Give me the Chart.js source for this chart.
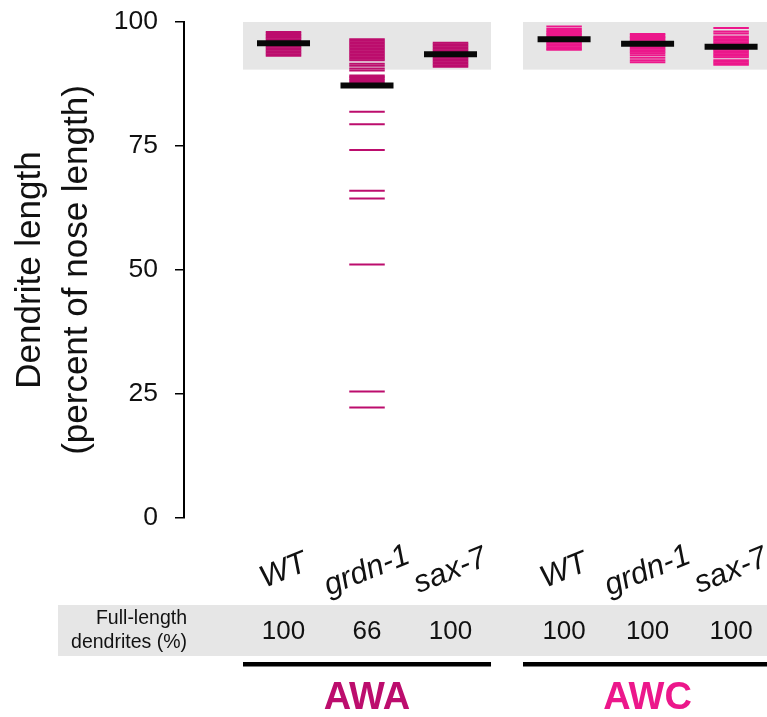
<!DOCTYPE html>
<html>
<head>
<meta charset="utf-8">
<script src="https://cdn.jsdelivr.net/npm/chart.js@4.4.1/dist/chart.umd.min.js"></script>
<style>
  html, body { margin: 0; padding: 0; background: #fff; }
  #wrap { width: 767px; height: 717px; }
</style>
</head>
<body>
<div id="wrap"><canvas id="chart" width="767" height="717"></canvas></div>
<script>
// --- values ---
const strains = ['WT', 'grdn-1', 'sax-7', 'WT', 'grdn-1', 'sax-7']
const neurons = ['AWA', 'AWC']
const fullLengthPct = [100, 66, 100, 100, 100, 100]
const yTicks = [0, 25, 50, 75, 100]
const fullLengthCutoff = 90.4

// one dash per animal (percent of nose length)
const awaWT = [93.2, 93.5, 93.8, 94.1, 94.4, 94.7, 95.0, 95.3, 95.6, 95.9, 96.2, 96.5, 96.8, 97.1, 97.4, 97.7, 98.0]
const awaGrdn1 = [96.5, 96.2, 95.9, 95.6, 95.3, 95.0, 94.7, 94.4, 94.1, 93.8, 93.5, 93.2, 92.9, 92.6, 92.3,
  91.6, 91.2, 90.6, 90.2, 89.2, 88.9, 88.6, 88.3, 87.9, 81.9, 79.4, 74.2, 66.0, 64.4, 51.1, 25.5, 22.3]
const awaSax7 = [91.0, 91.3, 91.6, 91.9, 92.2, 92.5, 92.8, 93.1, 93.4, 93.7, 94.0, 94.3, 94.6, 94.9, 95.2, 95.5, 95.8]
const awcWT = [99.1, 98.6, 98.2, 97.9, 97.6, 97.3, 97.0, 96.7, 96.4, 96.1, 95.8, 95.5, 95.2, 94.9, 94.6, 94.4]
const awcGrdn1 = [97.6, 97.3, 97.0, 96.7, 96.4, 96.1, 95.8, 95.5, 95.2, 94.9, 94.6, 94.3, 94.0, 93.7, 93.3, 92.8, 92.3, 91.9]
const awcSax7 = [98.8, 98.1, 97.7, 97.1, 96.8, 96.5, 96.2, 95.9, 95.6, 95.3, 95.0, 94.7, 94.4, 94.1, 93.8,
  93.5, 93.2, 92.9, 92.3, 92.0, 91.7, 91.4]
const centerLines = [95.7, 87.2, 93.5, 96.5, 95.6, 95.0]

// --- layout / style ---
const FONT = "'Liberation Sans', Arial, Helvetica, sans-serif"
const INK = '#111'
const BAND = '#e6e6e6'
const neuronColors = ['#bc0d6d', '#ec178b']
const xPos = [1, 2, 3, 4.36, 5.36, 6.36]
const groupSpan = [[0.515, 3.485], [3.868, 6.9]]

const series = [awaWT, awaGrdn1, awaSax7, awcWT, awcGrdn1, awcSax7]

const dashSets = series.map((vals, i) => ({
  label: neurons[i < 3 ? 0 : 1] + ' ' + strains[i],
  data: vals.map((v) => ({ x: xPos[i], y: v })),
  pointStyle: 'line',
  pointRadius: 17.75,
  pointBorderWidth: 2,
  borderColor: neuronColors[i < 3 ? 0 : 1],
  showLine: false,
  order: 1,
}))

const centerSet = {
  label: 'center',
  data: centerLines.map((v, i) => ({ x: xPos[i], y: v })),
  pointStyle: 'line',
  pointRadius: 26.5,
  pointBorderWidth: 6,
  borderColor: '#080808',
  showLine: false,
  order: 0,
}

const decorations = {
  id: 'decorations',
  beforeDatasetsDraw(chart) {
    const { ctx, scales: { x, y } } = chart
    const top = y.getPixelForValue(100)
    const bot = y.getPixelForValue(fullLengthCutoff)
    ctx.save()
    ctx.fillStyle = BAND
    groupSpan.forEach(([a, b]) => {
      const xa = x.getPixelForValue(a)
      ctx.fillRect(xa, top, x.getPixelForValue(b) - xa, bot - top)
    })
    ctx.restore()
  },
  afterDraw(chart) {
    const { ctx, scales: { x } } = chart
    ctx.save()

    // strain names, tilted
    ctx.fillStyle = INK
    ctx.font = `italic 31px ${FONT}`
    ctx.textAlign = 'center'
    ctx.textBaseline = 'middle'
    strains.forEach((s, i) => {
      ctx.save()
      ctx.translate(x.getPixelForValue(xPos[i]), 571)
      ctx.rotate((-22 * Math.PI) / 180)
      ctx.fillText(s, 0, 0)
      ctx.restore()
    })

    // table row
    ctx.fillStyle = BAND
    ctx.fillRect(58, 605, 767 - 58, 51)
    ctx.fillStyle = INK
    ctx.font = `19.5px ${FONT}`
    ctx.textAlign = 'right'
    ctx.fillText('Full-length', 187, 619)
    ctx.fillText('dendrites (%)', 187, 643)
    ctx.font = `26px ${FONT}`
    ctx.textAlign = 'center'
    fullLengthPct.forEach((v, i) => {
      ctx.fillText(String(v), x.getPixelForValue(xPos[i]), 632)
    })

    // neuron groups
    ctx.fillStyle = '#000'
    groupSpan.forEach(([a, b]) => {
      const xa = x.getPixelForValue(a)
      ctx.fillRect(xa, 662, x.getPixelForValue(b) - xa, 4.5)
    })
    ctx.font = `bold 38px ${FONT}`
    neurons.forEach((n, g) => {
      ctx.fillStyle = neuronColors[g]
      ctx.fillText(n, x.getPixelForValue(xPos[g * 3 + 1]), 699)
    })
    ctx.restore()
  },
}

new Chart(document.getElementById('chart'), {
  type: 'scatter',
  data: { datasets: [centerSet, ...dashSets] },
  plugins: [decorations],
  options: {
    responsive: false,
    animation: false,
    layout: { autoPadding: false, padding: { top: 22, bottom: 199, left: 0, right: 0 } },
    plugins: { legend: { display: false }, tooltip: { enabled: false } },
    scales: {
      x: { type: 'linear', min: -0.1916, max: 6.79, display: false },
      y: {
        min: 0,
        max: 100,
        afterBuildTicks: (axis) => {
          axis.ticks = yTicks.map((v) => ({ value: v }))
        },
        afterFit: (axis) => {
          axis.width = 184
          axis.paddingTop = 0
          axis.paddingBottom = 0
        },
        ticks: { color: INK, padding: 17, font: { family: FONT, size: 26.5 } },
        grid: { drawOnChartArea: false, tickLength: 9, color: '#000', lineWidth: 1.5 },
        border: { color: '#000', width: 2 },
        title: {
          display: true,
          text: ['Dendrite length', '(percent of nose length)'],
          color: INK,
          font: { family: FONT, size: 35, lineHeight: 1.34 },
          padding: { top: 7, bottom: 0 },
        },
      },
    },
  },
})
</script>
</body>
</html>
